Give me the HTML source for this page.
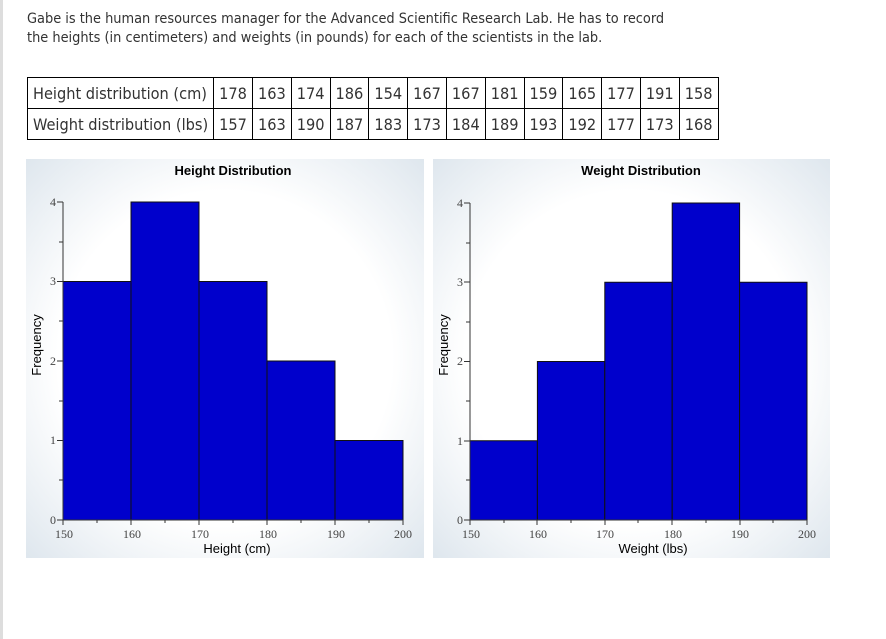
<!DOCTYPE html>
<html><head><style>
body{margin:0;width:886px;height:639px;background:#fff;position:relative;overflow:hidden;font-family:"Liberation Sans",sans-serif}
.p{position:absolute;left:27px;top:10px;font-size:14.4px;line-height:19px;color:#333;font-family:"DejaVu Sans Condensed","Liberation Sans Narrow","Liberation Sans",sans-serif}
table{position:absolute;left:27px;top:77px;border-collapse:collapse;font-family:"DejaVu Sans Condensed","Liberation Sans",sans-serif;font-size:16.2px;color:#333}
td{border:1px solid #000;height:30px;padding:0 5px;text-align:center;white-space:nowrap}
td:first-child{text-align:left;padding:0 5px}
</style></head><body>
<div style="position:absolute;left:0;top:0;width:3px;height:639px;background:#ddd"></div>
<div class="p">Gabe is the human resources manager for the Advanced Scientific Research Lab. He has to record<br>the heights (in centimeters) and weights (in pounds) for each of the scientists in the lab.</div>
<table>
<tr><td style="width:173px">Height distribution (cm)</td><td>178</td><td>163</td><td>174</td><td>186</td><td>154</td><td>167</td><td>167</td><td>181</td><td>159</td><td>165</td><td>177</td><td>191</td><td>158</td></tr>
<tr><td>Weight distribution (lbs)</td><td>157</td><td>163</td><td>190</td><td>187</td><td>183</td><td>173</td><td>184</td><td>189</td><td>193</td><td>192</td><td>177</td><td>173</td><td>168</td></tr>
</table>
<svg width="886" height="639" style="position:absolute;left:0;top:0">
<defs><radialGradient id="g" cx="50%" cy="50%" r="70%"><stop offset="0.6" stop-color="#fff"/><stop offset="1" stop-color="#dfe7ee"/></radialGradient></defs>
<rect x="26" y="159" width="398" height="399" fill="url(#g)"/>
<rect x="433" y="159" width="397" height="399" fill="url(#g)"/>
<g fill="#0000cc" stroke="#111" stroke-width="1">
<rect x="63" y="281.5" width="68" height="238.5"/>
<rect x="131" y="202" width="68" height="318"/>
<rect x="199" y="281.5" width="68" height="238.5"/>
<rect x="267" y="361" width="68" height="159"/>
<rect x="335" y="440.5" width="68" height="79.5"/>
<rect x="470" y="440.75" width="67.4" height="79.25"/>
<rect x="537.4" y="361.5" width="67.4" height="158.5"/>
<rect x="604.8" y="282.25" width="67.4" height="237.75"/>
<rect x="672.2" y="203" width="67.4" height="317"/>
<rect x="739.6" y="282.25" width="67.4" height="237.75"/>
</g>
<g stroke="#333" stroke-width="1">
<line x1="63" y1="202" x2="63" y2="520"/><line x1="63" y1="520" x2="403" y2="520"/>
<line x1="470" y1="203" x2="470" y2="520"/><line x1="470" y1="520" x2="807" y2="520"/>
<path d="M57 202h6M59 242h4M57 281.5h6M59 321h4M57 361h6M59 401h4M57 440.5h6M59 480h4M57 520h6"/>
<path d="M464 203h6M466 243h4M464 282h6M466 322h4M464 361.5h6M466 401h4M464 441h6M466 480h4M464 520h6"/>
<path d="M63 520v5M97 520v3M131 520v5M165 520v3M199 520v5M233 520v3M267 520v5M301 520v3M335 520v5M369 520v3M403 520v5"/>
<path d="M470 520v5M504 520v3M537 520v5M571 520v3M605 520v5M638 520v3M672 520v5M706 520v3M740 520v5M773 520v3M807 520v5"/>
</g>
<g font-family="'Liberation Serif',serif" font-size="12" fill="#444">
<text x="56" y="206" text-anchor="end">4</text><text x="56" y="285" text-anchor="end">3</text><text x="56" y="365" text-anchor="end">2</text><text x="56" y="444" text-anchor="end">1</text><text x="56" y="524" text-anchor="end">0</text>
<text x="463" y="207" text-anchor="end">4</text><text x="463" y="286" text-anchor="end">3</text><text x="463" y="365" text-anchor="end">2</text><text x="463" y="445" text-anchor="end">1</text><text x="463" y="524" text-anchor="end">0</text>
<g text-anchor="middle"><text x="64" y="538">150</text><text x="132" y="538">160</text><text x="200" y="538">170</text><text x="268" y="538">180</text><text x="336" y="538">190</text><text x="403" y="538">200</text>
<text x="471" y="538">150</text><text x="538" y="538">160</text><text x="605" y="538">170</text><text x="673" y="538">180</text><text x="740" y="538">190</text><text x="807" y="538">200</text></g>
</g>
<g font-family="'Liberation Sans',sans-serif" font-size="13" fill="#000" text-anchor="middle">
<text x="233" y="175" font-weight="bold">Height Distribution</text>
<text x="641" y="175" font-weight="bold">Weight Distribution</text>
<text x="237" y="553">Height (cm)</text>
<text x="653" y="553">Weight (lbs)</text>
<text transform="translate(41,345) rotate(-90)">Frequency</text>
<text transform="translate(448,345) rotate(-90)">Frequency</text>
</g>
</svg>
</body></html>
